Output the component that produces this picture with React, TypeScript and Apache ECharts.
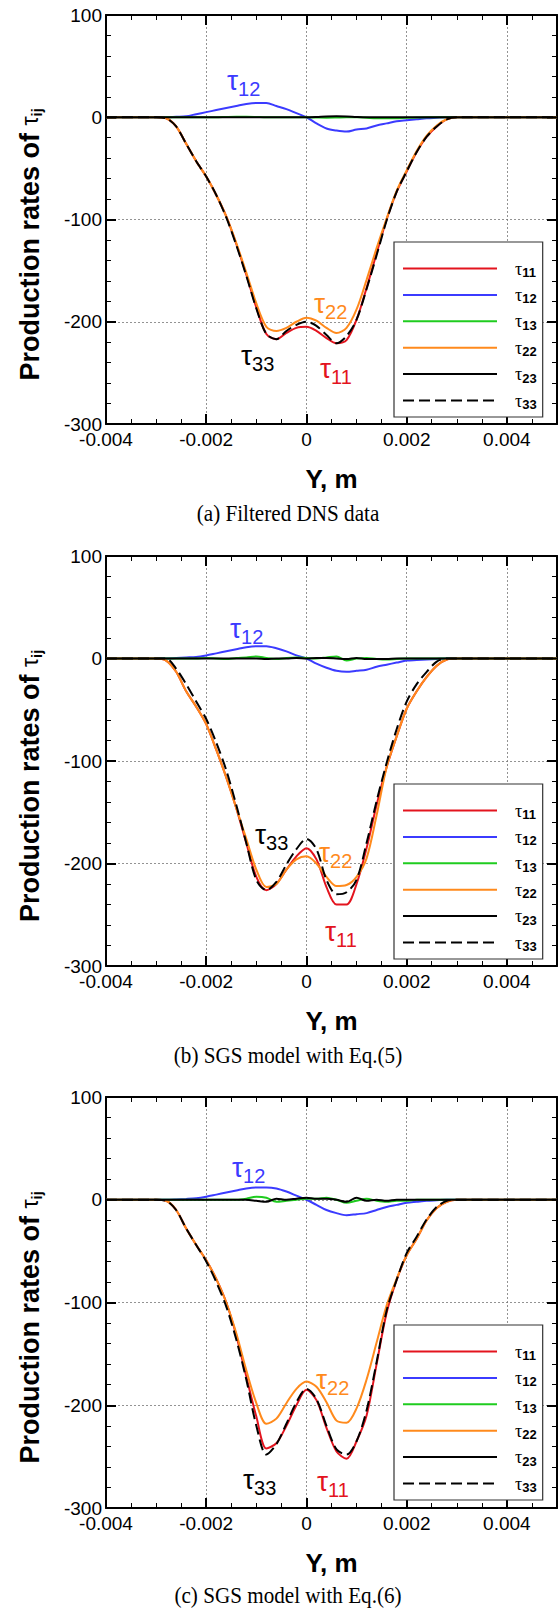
import React, { useEffect, useRef } from "react";
import * as echarts from "echarts";

// ---------- data ----------
const X = [-0.004, -0.003, -0.0028, -0.0026, -0.0024, -0.0022, -0.002, -0.0018, -0.0016, -0.0014, -0.0012, -0.001, -0.0008, -0.0006, -0.0004, -0.0002, 0, 0.0002, 0.0004, 0.0006, 0.0008, 0.001, 0.0012, 0.0014, 0.0016, 0.0018, 0.002, 0.0022, 0.0024, 0.0026, 0.0028, 0.003, 0.005];

const NAMES = ["τ11", "τ12", "τ13", "τ22", "τ23", "τ33"];
const COLORS = ["#e3141e", "#3b3bff", "#1fcc1f", "#ff8a1c", "#000000", "#000000"];

const X_TICKS = [-0.004, -0.002, 0, 0.002, 0.004];
const Y_TICKS = [-300, -200, -100, 0, 100];

// (a) Filtered DNS data
const t11a = [0, 0, -1, -9, -26, -43, -58, -76, -97, -124, -154, -186, -212, -217, -211, -206, -205, -209, -216, -221, -218, -198, -167, -133, -100, -73, -53, -34, -19, -9, -2, 0, 0];
const t12a = [0, 0, 0, 0.5, 1, 3, 5, 7, 9, 11, 13, 14, 14, 11, 8, 4, 0, -6, -11, -13, -14, -12, -11, -8, -6, -4, -3, -2, -1, -0.5, 0, 0, 0];
const t13a = [0, 0, 0, 0, 0, 0, 0, 0, 0.3, 0.5, 0.5, 0.3, 0, 0, 0, 0, 0, -0.3, -0.5, -0.3, 0, 0, -0.5, -1, -1, -1, -0.5, -0.3, 0, 0, 0, 0, 0];
const t22a = [0, 0, -1, -9, -26, -43, -58, -76, -97, -123, -152, -182, -205, -209, -206, -200, -196, -199, -206, -211, -206, -188, -159, -128, -99, -72, -52, -33, -18, -8, -2, 0, 0];
const t23a = [0, 0, 0, 0, 0, 0, 0, 0, 0, 0, 0, 0, 0, 0, 0, 0, 0, 0.3, 0.8, 1, 0.8, 0.3, 0, 0, 0, 0, 0, 0, 0, 0, 0, 0, 0];
const t33a = [0, 0, -1, -9, -26, -43, -58, -76, -98, -125, -155, -187, -212, -217, -209, -203, -200, -204, -213, -221, -214, -198, -168, -135, -101, -73, -53, -34, -19, -9, -2, 0, 0];

// (b) SGS model with Eq.(5)
const t11b = [0, 0, -2, -13, -32, -47, -64, -89, -116, -146, -180, -213, -226, -220, -206, -193, -185, -196, -223, -240, -240, -220, -185, -143, -106, -76, -49, -32, -18, -7, -1, 0, 0];
const t12b = [0, 0, 0, 0.5, 1, 1.5, 3, 5, 7, 9, 11, 12, 12, 10, 7, 3, 0, -5, -9, -12, -13, -12, -11, -8, -6, -4, -2, -1.5, -1, -0.5, 0, 0, 0];
const t13b = [0, 0, 0, 0, 0, 0, 0.5, 0, -0.5, 0.5, 1, 2, 0.5, -0.5, 0.5, 1, 0.5, 0, 1, 2, -2, 0, 0.5, -0.5, -1, -0.5, 0, 0, 0, 0, 0, 0, 0];
const t22b = [0, 0, -2, -13, -32, -47, -64, -89, -116, -146, -176, -206, -223, -220, -206, -196, -193, -200, -213, -222, -221, -213, -195, -153, -106, -76, -49, -32, -18, -7, -1, 0, 0];
const t23b = [0, 0, 0, 0, 0, 0, 0, 0, 0, 0, 0, 0, -0.5, 0, 0, 0.5, 0, 0.5, 0.5, 0, -0.5, 0.5, -0.5, -0.5, -0.5, 0, 0, 0, 0, 0, 0, 0, 0];
const t33b = [0, 0, 0, -10, -25, -42, -59, -82, -109, -143, -180, -216, -226, -218, -201, -186, -176, -186, -216, -230, -228, -216, -180, -139, -102, -69, -42, -25, -13, -3, 0, 0, 0];

// (c) SGS model with Eq.(6)
const t11c = [0, 0, -1, -10, -28, -44, -59, -77, -100, -132, -172, -211, -242, -237, -220, -200, -185, -195, -222, -245, -252, -235, -210, -160, -110, -78, -54, -38, -20, -8, -2, 0, 0];
const t12c = [0, 0, 0, 0.3, 0.8, 1.5, 3, 5, 7, 9, 11, 12, 12, 11, 8, 4, 0, -5, -10, -13, -15, -14, -13, -10, -7, -5, -3, -2, -1, -0.5, 0, 0, 0];
const t13c = [0, 0, 0, 0, 0, 0, 0, 0, 0, 0, 1, 3, 2, -2, -1, 0, 1, 1, 2, 0, -3, -1, 1, -1, -2, -1, -1, 0, 0, 0, 0, 0, 0];
const t22c = [0, 0, -1, -10, -28, -44, -59, -77, -100, -130, -166, -198, -218, -213, -198, -184, -177, -182, -197, -215, -217, -203, -175, -139, -103, -77, -54, -38, -20, -8, -2, 0, 0];
const t23c = [0, 0, 0, 0, 0, 0, 0, 0, 0, 0, 0, -1, -2, 1, 0, 1, 2, 1, 1, 0, -2, 2, -1, 0, -1, 0, 0, 0, 0, 0, 0, 0, 0];
const t33c = [0, 0, -1, -10, -28, -44, -60, -80, -104, -136, -175, -220, -248, -238, -218, -197, -184, -194, -220, -243, -248, -235, -205, -158, -108, -78, -52, -36, -19, -7, -1, 0, 0];

const CAPTIONS = ["(a) Filtered DNS data", "(b) SGS model with Eq.(5)", "(c) SGS model with Eq.(6)"];

// ---------- layout ----------
const GRID_LEFT = 106;
const GRID_WIDTH = 451;
const PANELS = [
  {
    top: 15, height: 409, legendTop: 242, captionY: 513,
    data: [t11a, t12a, t13a, t22a, t23a, t33a],
    notes: [
      { id: "12", color: COLORS[1], x: 227, y: 80 },
      { id: "22", color: COLORS[3], x: 314, y: 303 },
      { id: "33", color: "#000", x: 241, y: 355 },
      { id: "11", color: COLORS[0], x: 320, y: 368 },
    ],
  },
  {
    top: 556, height: 410, legendTop: 784, captionY: 1055,
    data: [t11b, t12b, t13b, t22b, t23b, t33b],
    notes: [
      { id: "12", color: COLORS[1], x: 230, y: 628 },
      { id: "33", color: "#000", x: 255, y: 834 },
      { id: "22", color: COLORS[3], x: 319, y: 852 },
      { id: "11", color: COLORS[0], x: 325, y: 931 },
    ],
  },
  {
    top: 1097, height: 411, legendTop: 1325, captionY: 1595,
    data: [t11c, t12c, t13c, t22c, t23c, t33c],
    notes: [
      { id: "12", color: COLORS[1], x: 232, y: 1167 },
      { id: "22", color: COLORS[3], x: 316, y: 1379 },
      { id: "33", color: "#000", x: 243, y: 1479 },
      { id: "11", color: COLORS[0], x: 317, y: 1481 },
    ],
  },
];

const SANS = "'Liberation Sans', Arial, sans-serif";
const SERIF = "'Liberation Serif', 'Times New Roman', serif";

function buildOption() {
  const grid: any[] = [];
  const xAxis: any[] = [];
  const yAxis: any[] = [];
  const series: any[] = [];
  const legend: any[] = [];
  const graphic: any[] = [];

  const xMin = X_TICKS[0];
  const xMax = X[X.length - 1];
  const xInt = X_TICKS[1] - X_TICKS[0];
  const yMin = Y_TICKS[0];
  const yMax = Y_TICKS[Y_TICKS.length - 1];
  const yInt = Y_TICKS[1] - Y_TICKS[0];

  const fmtX = (v: number) => (Math.abs(v) < 1e-12 ? "0" : String(+v.toFixed(3)));
  const majorTick = { show: true, inside: true, length: 10, lineStyle: { color: "#000", width: 2 } };
  const minorTickX = { show: true, inside: true, length: 5, lineStyle: { color: "#000", width: 1 } };
  const minorTickY = { show: true, splitNumber: 5, length: 5, lineStyle: { color: "#000", width: 1 } };
  const split = { show: true, lineStyle: { color: "#777", width: 0.8, type: [2, 2] } };

  PANELS.forEach((p, gi) => {
    grid.push({ left: GRID_LEFT, width: GRID_WIDTH, top: p.top, height: p.height, containLabel: false });

    const baseLine = { show: true, onZero: false, lineStyle: { color: "#000", width: 2 } };
    const xi = xAxis.length;
    xAxis.push({
      type: "value", gridIndex: gi, position: "bottom", min: xMin, max: xMax, interval: xInt,
      axisLine: baseLine, axisTick: majorTick,
      axisLabel: { show: true, fontSize: 19, color: "#000", fontFamily: SANS, margin: 6, showMaxLabel: false, formatter: fmtX },
      splitLine: split,
      name: "Y, m", nameLocation: "middle", nameGap: 42,
      nameTextStyle: { fontSize: 26, fontWeight: "bold", color: "#000", fontFamily: SANS },
    });
    xAxis.push({
      type: "value", gridIndex: gi, position: "bottom", min: xMin, max: xMax, interval: xInt / 4,
      axisLine: { show: false, onZero: false }, axisTick: minorTickX,
      axisLabel: { show: false }, splitLine: { show: false },
    });
    xAxis.push({
      type: "value", gridIndex: gi, position: "top", min: xMin, max: xMax, interval: xInt,
      axisLine: baseLine, axisTick: majorTick,
      axisLabel: { show: false }, splitLine: { show: false },
    });
    xAxis.push({
      type: "value", gridIndex: gi, position: "top", min: xMin, max: xMax, interval: xInt / 4,
      axisLine: { show: false, onZero: false }, axisTick: minorTickX,
      axisLabel: { show: false }, splitLine: { show: false },
    });

    const yi = yAxis.length;
    yAxis.push({
      type: "value", gridIndex: gi, position: "left", min: yMin, max: yMax, interval: yInt,
      axisLine: baseLine, axisTick: majorTick, minorTick: minorTickY,
      axisLabel: { show: true, fontSize: 19, color: "#000", fontFamily: SANS, margin: 4 },
      splitLine: split,
    });
    yAxis.push({
      type: "value", gridIndex: gi, position: "right", min: yMin, max: yMax, interval: yInt,
      axisLine: baseLine, axisTick: majorTick, minorTick: minorTickY,
      axisLabel: { show: false }, splitLine: { show: false },
    });

    NAMES.forEach((name, si) => {
      series.push({
        type: "line", name, xAxisIndex: xi, yAxisIndex: yi,
        data: X.map((x, k) => [x, p.data[si][k]]),
        showSymbol: false, symbol: "none", smooth: 0.3,
        lineStyle: { color: COLORS[si], width: 2, type: si === 5 ? [11, 5] : "solid" },
        itemStyle: { color: COLORS[si] },
        z: 2 + si,
      });
    });

    legend.push({
      orient: "vertical", left: 394, top: p.legendTop,
      itemWidth: 94, itemHeight: 14, itemGap: 5.4,
      padding: [16, 6, 6, 8],
      borderColor: "#333", borderWidth: 1.2, backgroundColor: "#fff",
      selectedMode: false, data: NAMES, z: 10,
      itemStyle: { opacity: 0, borderWidth: 0 },
      formatter: (n: string) => `{t|τ}{s|${n.slice(1)}}`,
      textStyle: {
        rich: {
          t: { fontSize: 18, fontFamily: SERIF, color: "#000", padding: [0, 0, 0, 13], lineHeight: 20, verticalAlign: "middle" },
          s: { fontSize: 13, fontWeight: "bold", fontFamily: SANS, color: "#000", lineHeight: 13, padding: [8, 0, 0, 0], verticalAlign: "middle" },
        },
      },
    });

    // y-axis title: starts (reading bottom-to-top) 161px below the grid's middle
    graphic.push({
      type: "text", x: 30, y: p.top + p.height / 2 + 161, rotation: Math.PI / 2, z: 20,
      style: {
        text: "{b|Production rates of }{t|τ}{s|ij}", align: "left", verticalAlign: "middle",
        rich: {
          b: { fontSize: 27, fontWeight: "bold", fontFamily: SANS, fill: "#000", lineHeight: 32, verticalAlign: "middle" },
          t: { fontSize: 23, fontFamily: SANS, fill: "#000", lineHeight: 32, verticalAlign: "middle" },
          s: { fontSize: 15, fontWeight: "bold", fontFamily: SANS, fill: "#000", lineHeight: 15, padding: [13, 0, 0, 0], verticalAlign: "middle" },
        },
      },
    });

    p.notes.forEach((n) => {
      graphic.push({
        type: "text", x: n.x, y: n.y, z: 20,
        style: {
          text: `{t|τ}{s|${n.id}}`, align: "left", verticalAlign: "middle",
          rich: {
            t: { fontSize: 28, fontFamily: SANS, fill: n.color, lineHeight: 30, verticalAlign: "middle" },
            s: { fontSize: 20, fontFamily: SANS, fill: n.color, lineHeight: 20, padding: [18, 0, 0, 0], verticalAlign: "middle" },
          },
        },
      });
    });

    graphic.push({
      type: "text", x: 288, y: p.captionY, scaleX: 0.92, z: 20,
      style: { text: CAPTIONS[gi], fontSize: 23, fontFamily: SERIF, fill: "#000", align: "center", verticalAlign: "middle" },
    });
  });

  return { animation: false, backgroundColor: "#fff", grid, xAxis, yAxis, series, legend, graphic };
}

export default function App() {
  const ref = useRef<HTMLDivElement>(null);
  useEffect(() => {
    document.body.style.margin = "0";
    if (!ref.current) return;
    const chart = echarts.init(ref.current, undefined, { renderer: "svg" });
    chart.setOption(buildOption() as any);
    return () => chart.dispose();
  }, []);
  return <div ref={ref} style={{ width: 560, height: 1608 }} />;
}
